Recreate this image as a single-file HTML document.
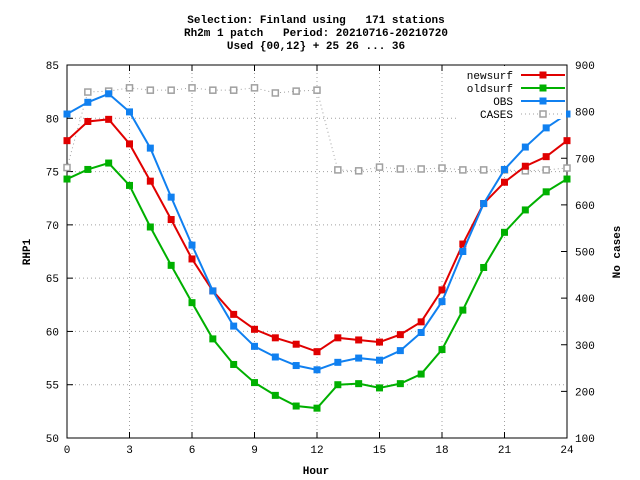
<!DOCTYPE html>
<html><head><meta charset="utf-8"><style>
body{margin:0;background:#fff;}
svg{display:block;font-family:"Liberation Mono","DejaVu Sans Mono",monospace;font-size:11px;}
#title text{white-space:pre;}
</style></head><body>
<svg id="c" width="640" height="480">
<g id="title" text-anchor="middle" font-weight="bold" xml:space="preserve">
<text x="316" y="23">Selection: Finland using   171 stations</text>
<text x="316" y="36">Rh2m 1 patch   Period: 20210716-20210720</text>
<text x="316" y="49">Used {00,12} + 25 26 ... 36</text>
</g>
<g id="grid"></g><g id="axes"></g><g id="series"></g><g id="legend"></g>
<text x="316" y="474" text-anchor="middle" font-weight="bold">Hour</text>
<text transform="translate(30,252) rotate(-90)" text-anchor="middle" font-weight="bold">RHP1</text>
<text transform="translate(620,252) rotate(-90)" text-anchor="middle" font-weight="bold">No cases</text>
</svg>
<script>
const hours=[0,1,2,3,4,5,6,7,8,9,10,11,12,13,14,15,16,17,18,19,20,21,22,23,24];
const newsurf=[77.9,79.7,79.9,77.6,74.1,70.5,66.8,63.8,61.6,60.2,59.4,58.8,58.1,59.4,59.2,59.0,59.7,60.9,63.9,68.2,72.0,74.0,75.5,76.4,77.9];
const oldsurf=[74.3,75.2,75.8,73.7,69.8,66.2,62.7,59.3,56.9,55.2,54.0,53.0,52.8,55.0,55.1,54.7,55.1,56.0,58.3,62.0,66.0,69.3,71.4,73.1,74.3];
const obs=[80.4,81.5,82.3,80.6,77.2,72.6,68.1,63.8,60.5,58.6,57.6,56.8,56.4,57.1,57.5,57.3,58.2,59.9,62.8,67.5,72.0,75.2,77.3,79.1,80.4];
const cases=[680,842,844,851,846,846,851,846,846,851,840,844,846,675,673,681,677,677,679,675,675,675,673,675,679];
const xTicks=[0,3,6,9,12,15,18,21,24];
const yTicks=[50,55,60,65,70,75,80,85];
const y2Ticks=[100,200,300,400,500,600,700,800,900];
const L=67,R=567,T=65,B=438;
const sx=h=>L+(h/24)*(R-L);
const sy=v=>B-(v-50)/35*(B-T);
const sy2=v=>B-(v-100)/800*(B-T);
const NS="http://www.w3.org/2000/svg";
function mk(p,tag,at){const e=document.createElementNS(NS,tag);for(const k in at)e.setAttribute(k,at[k]);p.appendChild(e);return e;}
const grid=document.getElementById('grid'),axes=document.getElementById('axes'),ser=document.getElementById('series'),leg=document.getElementById('legend');
xTicks.forEach(t=>{const x=sx(t);
 if(t>0&&t<24){const g=mk(grid,'line',{x1:x,y1:T,x2:x,y2:B,stroke:'#a0a0a0','stroke-dasharray':'1,3'});
 }
 mk(axes,'line',{x1:x,y1:B,x2:x,y2:B-6,stroke:'#000'});mk(axes,'line',{x1:x,y1:T,x2:x,y2:T+6,stroke:'#000'});
 const tx=mk(axes,'text',{x:x,y:B+15,'text-anchor':'middle'});tx.textContent=t;
 });
yTicks.forEach(t=>{const y=sy(t);
 if(t>50&&t<85){const g=mk(grid,'line',{x1:L,y1:y,x2:R,y2:y,stroke:'#a0a0a0','stroke-dasharray':'1,3'});
 }
 mk(axes,'line',{x1:L,y1:y,x2:L+6,y2:y,stroke:'#000'});
 const tx=mk(axes,'text',{x:L-8,y:y+4,'text-anchor':'end'});tx.textContent=t;
 });
y2Ticks.forEach(t=>{const y=sy2(t);
 mk(axes,'line',{x1:R,y1:y,x2:R-6,y2:y,stroke:'#000'});
 const tx=mk(axes,'text',{x:R+8,y:y+4,'text-anchor':'start'});tx.textContent=t;
 });
const fr=mk(axes,'rect',{x:L,y:T,width:R-L,height:B-T,fill:'none',stroke:'#000'});

function series(vals,scale,color,name,dash,hollow,width){
 const g=mk(ser,'g',{});
 
 const pts=vals.map((v,i)=>sx(hours[i])+','+scale(v)).join(' ');
 const pl=mk(g,'polyline',{points:pts,fill:'none',stroke:color,'stroke-width':width});
 if(dash)pl.setAttribute('stroke-dasharray',dash);
 vals.forEach((v,i)=>{const m=mk(g,'rect',{x:sx(hours[i])-3,y:scale(v)-3,width:6,height:6,fill:hollow?'#fff':color,stroke:color,'stroke-width':hollow?1.5:1});
  });
}
series(cases,sy2,'#a0a0a0','cases','1,3',true,1);
series(newsurf,sy,'#e00000','newsurf',null,false,2);
series(oldsurf,sy,'#00b000','oldsurf',null,false,2);
series(obs,sy,'#1080f0','obs',null,false,2);
const lb=mk(leg,'rect',{x:459,y:66,width:107,height:53,fill:'#fff'});
const items=[['newsurf','#e00000',false],['oldsurf','#00b000',false],['OBS','#1080f0',false],['CASES','#a0a0a0',true]];
items.forEach((it,i)=>{const y=75+i*13;
 const g=mk(leg,'g',{});
 const t=mk(g,'text',{x:513,y:y+4,'text-anchor':'end'});t.textContent=it[0];
 const ln=mk(g,'line',{x1:521,y1:y,x2:565,y2:y,stroke:it[1],'stroke-width':it[2]?1:2});
 if(it[2])ln.setAttribute('stroke-dasharray','1,3');
 mk(g,'rect',{x:540,y:y-3,width:6,height:6,fill:it[2]?'#fff':it[1],stroke:it[1],'stroke-width':it[2]?1.5:1});});
</script>
</body></html>
